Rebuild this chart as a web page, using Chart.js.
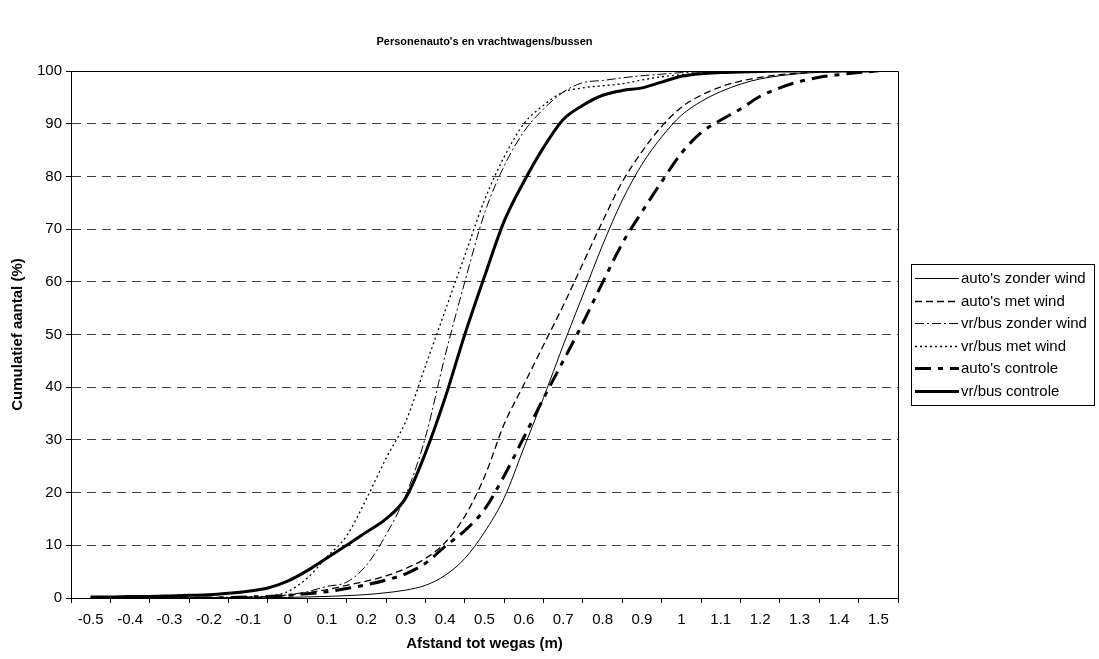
<!DOCTYPE html>
<html>
<head>
<meta charset="utf-8">
<title>Personenauto's en vrachtwagens/bussen</title>
<script src="https://cdn.jsdelivr.net/npm/chart.js@4.4.1/dist/chart.umd.min.js"></script>
<style>
    html, body { margin: 0; padding: 0; background: #ffffff; }
    canvas { display: block; }
</style>
</head>
<body>
<canvas id="afstandChart" width="1099" height="659"></canvas>
<script>
// -------- DATA: cumulatief aantal (%) per afstand tot wegas (m) ---------
const afstand = [-0.5, -0.45, -0.4, -0.35, -0.3, -0.25, -0.2, -0.15, -0.1, -0.05,
                 0, 0.05, 0.1, 0.15, 0.2, 0.25, 0.3, 0.35, 0.4, 0.45,
                 0.5, 0.55, 0.6, 0.65, 0.7, 0.75, 0.8, 0.85, 0.9, 0.95,
                 1.0, 1.05, 1.1, 1.15, 1.2, 1.25, 1.3, 1.35, 1.4, 1.45, 1.5];

const autoZonderWind = [0, 0, 0, 0, 0, 0, 0, 0, 0, 0.05,
                        0.1, 0.2, 0.3, 0.45, 0.65, 1.0, 1.5, 2.4, 4.3, 7.5,
                        12.5, 19, 28.5, 38, 48, 57.5, 67, 75.5, 82.3, 87.5,
                        91.6, 94.2, 96.1, 97.5, 98.5, 99.1, 99.5, 99.75, 99.9, 100, 100];

const autoMetWind = [0, 0, 0, 0, 0, 0, 0, 0.05, 0.1, 0.2,
                     0.5, 1.0, 1.6, 2.4, 3.2, 4.2, 5.6, 7.5, 10.5, 15.5,
                     23, 33, 40.5, 48, 55.5, 63.5, 71.5, 79, 84.7, 89.5,
                     93.1, 95.4, 97, 98.1, 98.8, 99.3, 99.6, 99.8, 99.9, 100, 100];

const vrZonderWind = [0, 0, 0, 0, 0, 0, 0.1, 0.1, 0.2, 0.3,
                      0.6, 1.2, 2.2, 3.0, 6.2, 12, 19.5, 30.5, 46, 60,
                      73, 82, 88.5, 92.8, 96, 97.8, 98.2, 98.7, 99.1, 99.4,
                      99.7, 99.8, 99.9, 100, 100, 100, 100, 100, 100, 100, 100];

const vrMetWind = [0, 0, 0, 0, 0, 0, 0.1, 0.1, 0.2, 0.4,
                   1.2, 3.8, 7.8, 11.8, 18.8, 26.5, 33.5, 44, 54.5, 65,
                   75.5, 83.7, 90, 93.5, 96, 96.8, 97.2, 97.6, 98.3, 98.9,
                   99.3, 99.6, 99.8, 99.9, 100, 100, 100, 100, 100, 100, 100];

const autoControle = [0, 0, 0, 0, 0, 0, 0, 0.1, 0.2, 0.3,
                      0.5, 0.8, 1.2, 1.8, 2.5, 3.4, 4.6, 6.6, 9.8, 12.8,
                      16.8, 23.2, 30.5, 37.9, 45, 52.2, 59.9, 67.3, 73.3, 79,
                      84.4, 88.3, 90.7, 92.8, 95.2, 96.8, 98, 98.8, 99.3, 99.7, 100];

const vrControle = [0.2, 0.2, 0.3, 0.3, 0.4, 0.5, 0.6, 0.9, 1.3, 1.9,
                    3.2, 5.2, 7.6, 10, 12.5, 15, 19, 27.5, 38, 50,
                    61, 71.5, 79, 85.5, 90.8, 93.5, 95.4, 96.3, 96.8, 97.9,
                    99.0, 99.5, 99.7, 99.8, 99.9, 100, 100, 100, 100, 100, 100];

const reeksNamen = ["auto's zonder wind", "auto's met wind", "vr/bus zonder wind",
                    "vr/bus met wind", "auto's controle", "vr/bus controle"];
const reeksWaarden = [autoZonderWind, autoMetWind, vrZonderWind, vrMetWind, autoControle, vrControle];

const xLabels = [-0.5, -0.4, -0.3, -0.2, -0.1, 0, 0.1, 0.2, 0.3, 0.4, 0.5,
                 0.6, 0.7, 0.8, 0.9, 1, 1.1, 1.2, 1.3, 1.4, 1.5];
const yLabels = [0, 10, 20, 30, 40, 50, 60, 70, 80, 90, 100];


// -------- LINE STYLES ---------
const FONT = "'Liberation Sans', Arial, sans-serif";
const lijnStijl = [
    { width: 1,   dash: [] },
    { width: 1.3, dash: [7, 4] },
    { width: 1,   dash: [9, 3, 2, 3] },
    { width: 1.3, dash: [2, 3] },
    { width: 3,   dash: [16, 7, 5, 7] },
    { width: 3,   dash: [] }
];

const datasets = reeksNamen.map((naam, i) => ({
    label: naam,
    data: afstand.map((x, j) => ({ x: x, y: reeksWaarden[i][j] })),
    borderColor: '#000000',
    backgroundColor: '#000000',
    borderWidth: lijnStijl[i].width,
    borderDash: lijnStijl[i].dash,
    pointRadius: 0,
    pointHoverRadius: 0,
    cubicInterpolationMode: 'monotone',
    fill: false,
    order: reeksNamen.length - i
}));


// -------- PLOT FRAME (top + right edge) ---------
const plotKader = {
    id: 'plotKader',
    afterDatasetsDraw(chart) {
        const { ctx, chartArea: a } = chart;
        ctx.save();
        ctx.strokeStyle = '#000000';
        ctx.lineWidth = 1;
        ctx.beginPath();
        ctx.moveTo(Math.round(a.left) + 0.5, Math.round(a.top) + 0.5);
        ctx.lineTo(Math.round(a.right) + 0.5, Math.round(a.top) + 0.5);
        ctx.lineTo(Math.round(a.right) + 0.5, Math.round(a.bottom) + 0.5);
        ctx.stroke();
        ctx.restore();
    }
};

// -------- LEGEND WITH BORDER, RIGHT OF THE PLOT ---------
const legendaKader = {
    id: 'legendaKader',
    afterDraw(chart) {
        const { ctx, chartArea: a } = chart;
        const w = 183, h = 141, step = 22.6;
        const x0 = Math.round(a.right) + 13;
        const y0 = Math.round((a.top + a.bottom) / 2 - h / 2);
        ctx.save();
        ctx.strokeStyle = '#000000';
        ctx.lineWidth = 1;
        ctx.setLineDash([]);
        ctx.strokeRect(x0 + 0.5, y0 + 0.5, w, h);
        ctx.font = '15px ' + FONT;
        ctx.textBaseline = 'middle';
        ctx.fillStyle = '#000000';
        chart.data.datasets.forEach((ds, i) => {
            const y = Math.round(y0 + 14 + i * step) + 0.5;
            ctx.lineWidth = ds.borderWidth;
            ctx.setLineDash(ds.borderDash);
            ctx.beginPath();
            ctx.moveTo(x0 + 4, y);
            ctx.lineTo(x0 + 48, y);
            ctx.stroke();
            ctx.setLineDash([]);
            ctx.fillText(ds.label, x0 + 50, y);
        });
        ctx.restore();
    }
};


new Chart(document.getElementById('afstandChart'), {
    type: 'line',
    data: { datasets: datasets },
    plugins: [plotKader, legendaKader],
    options: {
        responsive: false,
        animation: false,
        devicePixelRatio: 1,
        layout: { padding: { left: 0, right: 201, top: 0, bottom: 0 } },
        plugins: {
            legend: { display: false },
            tooltip: { enabled: false },
            title: {
                display: true,
                text: "Personenauto's en vrachtwagens/bussen",
                fullSize: false,
                color: '#000000',
                font: { family: FONT, size: 11, weight: 'bold' },
                padding: { top: 35.4, bottom: 22.4 }
            }
        },
        scales: {
            x: {
                type: 'linear',
                bounds: 'data',
                min: -0.55,
                max: 1.55,
                afterBuildTicks: (s) => { s.ticks = xLabels.map(v => ({ value: v })); },
                afterFit: (s) => { s.height = 61; },
                grid: { offset: true, drawOnChartArea: false, tickLength: 5, color: '#000000' },
                border: { display: true, color: '#000000', width: 1 },
                ticks: {
                    autoSkip: false,
                    maxRotation: 0,
                    padding: 8,
                    color: '#000000',
                    font: { family: FONT, size: 15 },
                    callback: (v) => String(v)
                },
                title: {
                    display: true,
                    text: 'Afstand tot wegas (m)',
                    color: '#000000',
                    font: { family: FONT, size: 15, weight: 'bold' },
                    padding: { top: 0, bottom: 6 }
                }
            },
            y: {
                min: 0,
                max: 100,
                afterBuildTicks: (s) => { s.ticks = yLabels.map(v => ({ value: v })); },
                afterFit: (s) => { s.width = 71; },
                grid: {
                    color: (c) => (c.tick && (c.tick.value === 0 || c.tick.value === 100)) ? 'rgba(0,0,0,0)' : '#404040',
                    lineWidth: 1,
                    tickLength: 5,
                    tickColor: '#000000',
                    tickBorderDash: []
                },
                border: { display: true, color: '#000000', width: 1, dash: [9, 6] },
                ticks: {
                    padding: 4,
                    color: '#000000',
                    font: { family: FONT, size: 15 }
                },
                title: {
                    display: true,
                    text: 'Cumulatief aantal (%)',
                    color: '#000000',
                    font: { family: FONT, size: 15, weight: 'bold' },
                    padding: { top: 9, bottom: 0 }
                }
            }
        }
    }
});
</script>
</body>
</html>
